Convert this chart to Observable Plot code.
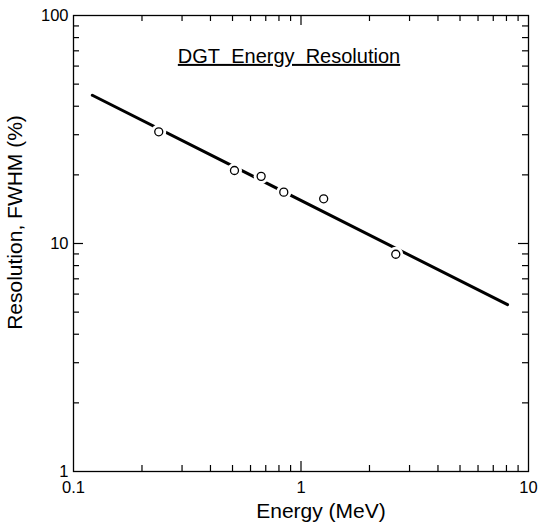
<!DOCTYPE html>
<html>
<head>
<meta charset="utf-8">
<script src="https://cdn.jsdelivr.net/npm/d3@7"></script>
<script src="https://cdn.jsdelivr.net/npm/@observablehq/plot@0.6"></script>
<style>
  body { margin: 0; background: #fff; }
</style>
</head>
<body>
<div id="chart"></div>
<script>
// Measured points
const energy = [0.237, 0.510, 0.668, 0.840, 1.258, 2.61];
const resolution = [30.9, 20.9, 19.7, 16.8, 15.7, 8.97];
// Fitted line end points
const lineEnergy = [0.121, 8.09];
const lineResolution = [44.7, 5.39];
// Ticks
const xLabelTicks = [0.1, 1, 10];
const yLabelTicks = [1, 10, 100];
const xMajor = [1];
const xMinor = [0.2, 0.3, 0.4, 0.5, 0.6, 0.7, 0.8, 0.9, 2, 3, 4, 5, 6, 7, 8, 9];
const yMajor = [10];
const yMinor = [2, 3, 4, 5, 6, 7, 8, 9, 20, 30, 40, 50, 60, 70, 80, 90];
const titleText = "DGT\u00a0 Energy\u00a0 Resolution";
const xTitle = "Energy (MeV)";
const yTitle = "Resolution, FWHM (%)";

const points = energy.map((e, i) => ({e, r: resolution[i]}));
const fit = lineEnergy.map((e, i) => ({e, r: lineResolution[i]}));

const W = 539, Hh = 526;
const mL = 73, mR = 11, mT = 15, mB = 55;
const iw = W - mL - mR, ih = Hh - mT - mB;
const maj = 10, mnr = 6;

const chart = Plot.plot({
  width: W, height: Hh,
  marginLeft: mL, marginRight: mR, marginTop: mT, marginBottom: mB,
  style: {fontFamily: "'Liberation Sans', Arial, sans-serif", fontSize: "16px", color: "#000", background: "#fff"},
  x: {type: "log", domain: [0.1, 10]},
  y: {type: "log", domain: [1, 100]},
  marks: [
    Plot.frame({stroke: "#000", strokeWidth: 1.3}),
    // bottom ticks
    Plot.tickX(xMinor, {x: d => d, insetTop: ih - mnr, stroke: "#000", strokeWidth: 1.2}),
    Plot.tickX(xMajor, {x: d => d, insetTop: ih - maj, stroke: "#000", strokeWidth: 1.2}),
    // top ticks
    Plot.tickX(xMinor, {x: d => d, insetBottom: ih - mnr, stroke: "#000", strokeWidth: 1.2}),
    Plot.tickX(xMajor, {x: d => d, insetBottom: ih - maj, stroke: "#000", strokeWidth: 1.2}),
    // left ticks
    Plot.tickY(yMinor, {y: d => d, insetRight: iw - mnr, stroke: "#000", strokeWidth: 1.2}),
    Plot.tickY(yMajor, {y: d => d, insetRight: iw - maj, stroke: "#000", strokeWidth: 1.2}),
    // right ticks
    Plot.tickY(yMinor, {y: d => d, insetLeft: iw - mnr, stroke: "#000", strokeWidth: 1.2}),
    Plot.tickY(yMajor, {y: d => d, insetLeft: iw - maj, stroke: "#000", strokeWidth: 1.2}),
    Plot.axisX({anchor: "bottom", ticks: xLabelTicks, tickSize: 0, tickPadding: 10, tickFormat: d => String(d), label: null, fontSize: 16.5}),
    Plot.axisY({anchor: "left", ticks: yLabelTicks, tickSize: 0, tickPadding: 5, tickFormat: d => String(d), label: null, fontSize: 16.5}),
    Plot.line(fit, {x: "e", y: "r", stroke: "#000", strokeWidth: 3}),
    Plot.dot(points, {x: "e", y: "r", r: 7.5, fill: "#fff", stroke: null}),
    Plot.dot(points, {x: "e", y: "r", r: 4, fill: "#fff", stroke: "#000", strokeWidth: 1.3}),
    Plot.text([titleText], {frameAnchor: "top", dx: -12, dy: 41, fontSize: 20, letterSpacing: 1.6, lineAnchor: "middle", textAnchor: "middle"}),
    Plot.text([xTitle], {frameAnchor: "bottom", dx: 20, dy: 40, fontSize: 21, lineAnchor: "middle", textAnchor: "middle"}),
    Plot.text([yTitle], {frameAnchor: "left", dx: -58, dy: -21, rotate: -90, fontSize: 21, lineAnchor: "middle", textAnchor: "middle"})
  ]
});
d3.select(chart).selectAll("text")
  .filter(function() { return this.textContent === titleText; })
  .style("text-decoration", "underline");
document.getElementById("chart").appendChild(chart);
</script>
</body>
</html>
